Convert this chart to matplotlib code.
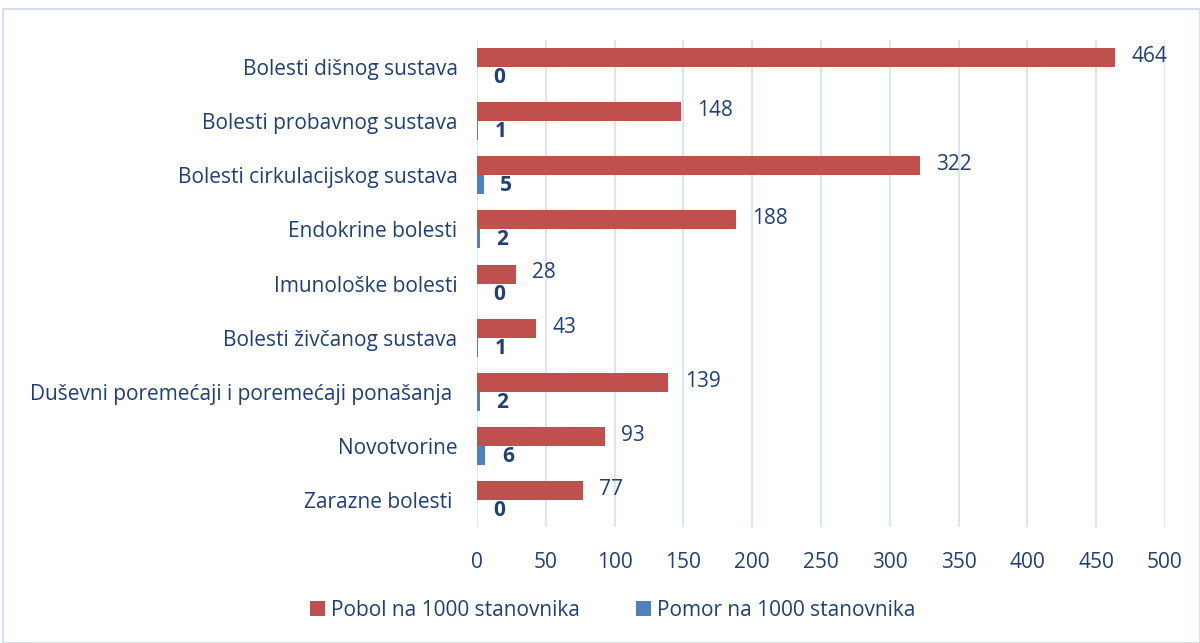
import numpy as np
import matplotlib.pyplot as plt
from matplotlib.patches import Rectangle

plt.rcParams['font.family'] = ['Open Sans', 'DejaVu Sans']

# Podaci: pobol i pomor na 1000 stanovnika po skupinama bolesti
kategorije = [
    'Bolesti dišnog sustava',
    'Bolesti probavnog sustava',
    'Bolesti cirkulacijskog sustava',
    'Endokrine bolesti',
    'Imunološke bolesti',
    'Bolesti živčanog sustava',
    'Duševni poremećaji i poremećaji ponašanja ',
    'Novotvorine',
    'Zarazne bolesti ',
]
pobol = [464, 148, 322, 188, 28, 43, 139, 93, 77]
pomor = [0, 1, 5, 2, 0, 1, 2, 6, 0]

crvena = '#C0504D'
plava = '#4F81BD'
tekst = '#1F3F77'
mreza = '#DCE6F2'
fs = 15

fig = plt.figure(figsize=(12, 6.43), dpi=100)
ax = fig.add_axes([0.3975, 1 - 527 / 643, 0.5733, 487 / 643])

y = np.arange(len(kategorije))
h = 0.35
ax.barh(y - h / 2, pobol, height=h, color=crvena, zorder=3, label='Pobol na 1000 stanovnika')
ax.barh(y + h / 2, pomor, height=h, color=plava, zorder=3, label='Pomor na 1000 stanovnika')

for yi, v in zip(y, pobol):
    ax.text(v + 12, yi - h / 2 - 0.02, str(v), va='center', ha='left',
            fontsize=fs, color=tekst)
for yi, v in zip(y, pomor):
    ax.text(v + 12, yi + h / 2 + 0.02, str(v), va='center', ha='left',
            fontsize=fs, color=tekst, fontweight='bold')

ax.set_ylim(len(kategorije) - 0.5, -0.5)
ax.set_xlim(0, 500)
ax.set_xticks(range(0, 501, 50))
ax.set_yticks(y)
ax.set_yticklabels(kategorije)
ax.tick_params(axis='both', length=0, labelsize=fs, labelcolor=tekst)
ax.tick_params(axis='y', pad=14)
ax.tick_params(axis='x', pad=18)
ax.grid(axis='x', color=mreza, linewidth=1.5, zorder=0)
for s in ax.spines.values():
    s.set_visible(False)

ax.legend(loc='center', bbox_to_anchor=(613 / 1200, 1 - 610 / 643),
          bbox_transform=fig.transFigure, ncol=2, frameon=False,
          fontsize=fs, labelcolor=tekst, handlelength=0.7, handleheight=0.7,
          handletextpad=0.3, columnspacing=2.7)

# okvir oko grafikona
fig.patches.append(Rectangle((3 / 1200, 0), 1 - 3 / 1200, 1 - 9 / 643,
                             transform=fig.transFigure, fill=False,
                             edgecolor='#D5E0EF', linewidth=1.5))

fig.savefig('out.png', dpi=100)
